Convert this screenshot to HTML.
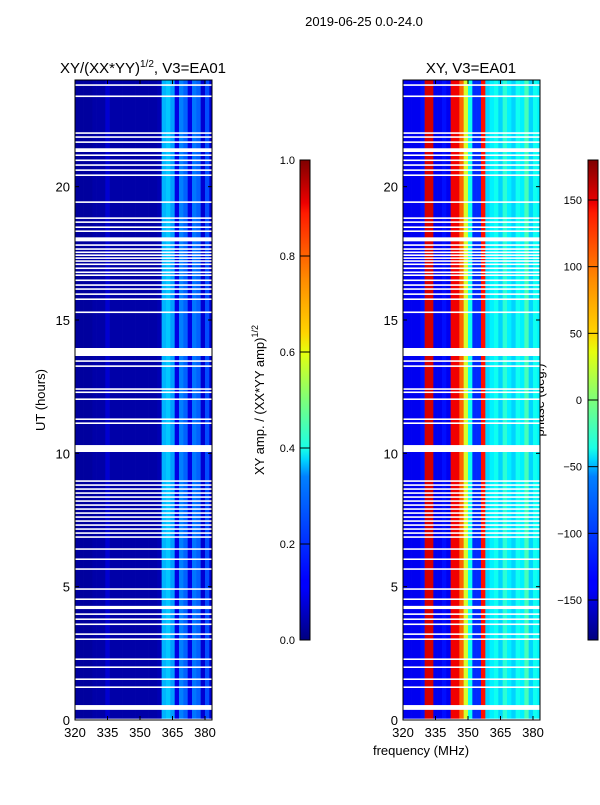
<!DOCTYPE html>
<html><head><meta charset="utf-8"><style>
body{margin:0;background:#fff;width:600px;height:800px;overflow:hidden}
svg text{font-family:"Liberation Sans",sans-serif;fill:#000}
</style></head><body>
<svg id="fig" width="600" height="800" xmlns="http://www.w3.org/2000/svg">
<text x="364" y="26" font-size="13" text-anchor="middle">2019-06-25 0.0-24.0</text>
<text x="143" y="73" font-size="15" text-anchor="middle">XY/(XX*YY)<tspan font-size="10" dy="-6">1/2</tspan><tspan dy="6">, V3=EA01</tspan></text>
<text x="471" y="73" font-size="15" text-anchor="middle">XY, V3=EA01</text>
<text x="45" y="400" font-size="13" text-anchor="middle" transform="rotate(-90 45 400)">UT (hours)</text>
<text x="421" y="755" font-size="13" text-anchor="middle">frequency (MHz)</text>
<text x="264" y="400" font-size="13" text-anchor="middle" transform="rotate(-90 264 400)">XY amp. / (XX*YY amp)<tspan font-size="9" dy="-6">1/2</tspan></text>
<text x="544" y="400" font-size="13" text-anchor="middle" transform="rotate(-90 544 400)">phase (deg.)</text>
<defs>
<linearGradient id="jet" x1="0" y1="1" x2="0" y2="0">
<stop offset="0" stop-color="#00007f"/><stop offset="0.11" stop-color="#0000ff"/><stop offset="0.125" stop-color="#0000ff"/><stop offset="0.34" stop-color="#0080ff"/><stop offset="0.375" stop-color="#00d4ff"/><stop offset="0.4" stop-color="#1affe6"/><stop offset="0.5" stop-color="#7dff7a"/><stop offset="0.6" stop-color="#e6ff0d"/><stop offset="0.64" stop-color="#ffd400"/><stop offset="0.75" stop-color="#ff8c00"/><stop offset="0.89" stop-color="#ff1a00"/><stop offset="0.91" stop-color="#ed0000"/><stop offset="1" stop-color="#7f0000"/>
</linearGradient></defs>
<rect x="300" y="160" width="10" height="480" fill="url(#jet)" stroke="#000" stroke-width="1"/>
<rect x="588" y="160" width="10" height="480" fill="url(#jet)" stroke="#000" stroke-width="1"/>
</svg>
<script>
const freqs=[320,322,324,326,328,330,332,334,336,338,340,342,344,346,348,350,352,354,356,358,360,362,364,366,368,370,372,374,376,378,380,382];
const ampValues=[0.03,0.03,0.03,0.03,0.04,0.04,0.04,0.08,0.04,0.04,0.04,0.04,0.04,0.04,0.04,0.04,0.04,0.04,0.04,0.05,0.3,0.32,0.28,0.1,0.25,0.22,0.1,0.24,0.22,0.08,0.2,0.08];
const phaseValues=[-140,-140,-140,-140,-130,150,150,-140,-140,-130,-140,140,140,100,30,-40,-120,-120,130,-60,-50,-40,-60,-30,-50,-60,-40,-50,-20,-60,-40,-50];
const gapStart=[23.78,23.36,21.98,21.83,21.64,21.3,21.15,20.96,20.78,20.59,20.4,19.39,18.79,18.64,18.45,18.3,17.95,17.78,17.63,17.51,17.4,17.29,17.18,17.06,16.91,16.76,16.65,16.46,16.28,16.13,15.94,15.75,15.26,13.65,13.43,13.24,12.38,12.26,12.0,11.25,11.1,10.05,8.93,8.78,8.63,8.48,8.33,8.18,8.03,7.88,7.73,7.58,7.43,7.28,7.13,6.98,6.83,6.38,6.0,5.63,4.88,4.5,4.16,3.94,3.75,3.56,3.19,3.0,2.25,1.95,1.5,1.2,0.38,0.0];
const gapWidth=[0.06,0.06,0.06,0.06,0.06,0.14,0.06,0.06,0.06,0.06,0.06,0.06,0.06,0.06,0.06,0.06,0.15,0.06,0.06,0.06,0.06,0.06,0.06,0.06,0.06,0.06,0.06,0.06,0.06,0.06,0.06,0.06,0.06,0.3,0.06,0.06,0.06,0.06,0.06,0.06,0.06,0.26,0.06,0.06,0.06,0.06,0.06,0.06,0.06,0.06,0.06,0.06,0.06,0.06,0.06,0.06,0.06,0.06,0.06,0.06,0.06,0.06,0.12,0.06,0.06,0.06,0.06,0.06,0.06,0.06,0.06,0.06,0.18,0.05];
const yTicks=[0,5,10,15,20];
const xTicks=[320,335,350,365,380];
const ampTicks=[0,0.2,0.4,0.6,0.8,1.0];
const phaseTicks=[-150,-100,-50,0,50,100,150];

const NS='http://www.w3.org/2000/svg';
const svg=document.getElementById('fig');
function mk(t,a){const e=document.createElementNS(NS,t);for(const k in a)e.setAttribute(k,a[k]);svg.appendChild(e);return e;}
function jet(x){x=Math.max(0,Math.min(1,x));const c=v=>Math.round(255*Math.max(0,Math.min(1,v)));
return `rgb(${c(1.5-Math.abs(4*x-3))},${c(1.5-Math.abs(4*x-2))},${c(1.5-Math.abs(4*x-1))})`;}
const PY0=80,PY1=720;
const yS=h=>PY1-(h/24)*(PY1-PY0);
const xS=(x0)=>f=>x0+(f-320)*2.1667;
const panels=[{x0:75,vals:ampValues,norm:v=>v,name:'amp'},{x0:403,vals:phaseValues,norm:v=>(v+180)/360,name:'phase'}];
panels.forEach(p=>{
  const xs=xS(p.x0);
  freqs.forEach((f,i)=>{
    const x=xs(f),w=Math.min(xs(f+2),p.x0+137)-x;
    const r=mk('rect',{x:x,y:PY0,width:w+0.3,height:PY1-PY0,fill:jet(p.norm(p.vals[i]))});
    
    
  });
  gapStart.forEach((g,i)=>{
    const r=mk('rect',{x:p.x0,y:yS(g+gapWidth[i]),width:137,height:yS(g)-yS(g+gapWidth[i]),fill:'#fff'});
    
    
  });
  const fr=mk('rect',{x:p.x0,y:PY0,width:137,height:PY1-PY0,fill:'none',stroke:'#000','stroke-width':1});
  
  
  yTicks.forEach(t=>{
    const y=yS(t);
    mk('line',{x1:p.x0,x2:p.x0+4,y1:y,y2:y,stroke:'#000'});
    mk('line',{x1:p.x0+137,x2:p.x0+133,y1:y,y2:y,stroke:'#000'});
    const tx=mk('text',{x:p.x0-5,y:y+5,'font-size':13,'text-anchor':'end'});tx.textContent=t;
    
    
  });
  xTicks.forEach(t=>{
    const x=xs(t);
    mk('line',{x1:x,x2:x,y1:PY1,y2:PY1-4,stroke:'#000'});
    mk('line',{x1:x,x2:x,y1:PY0,y2:PY0+4,stroke:'#000'});
    const tx=mk('text',{x:x,y:PY1+17,'font-size':13,'text-anchor':'middle'});tx.textContent=t;
    
    
  });
});
ampTicks.forEach(t=>{
  const y=640-t*480;
  mk('line',{x1:300,x2:310,y1:y,y2:y,stroke:'#000'});
  const tx=mk('text',{x:295,y:y+4,'font-size':11,'text-anchor':'end'});tx.textContent=t.toFixed(1);
  
  
});
phaseTicks.forEach(t=>{
  const y=400-t*480/360;
  mk('line',{x1:588,x2:598,y1:y,y2:y,stroke:'#000'});
  const tx=mk('text',{x:582,y:y+4,'font-size':11,'text-anchor':'end'});tx.textContent=t<0?'\u2212'+(-t):t;
  
  
});
</script>
</body></html>
